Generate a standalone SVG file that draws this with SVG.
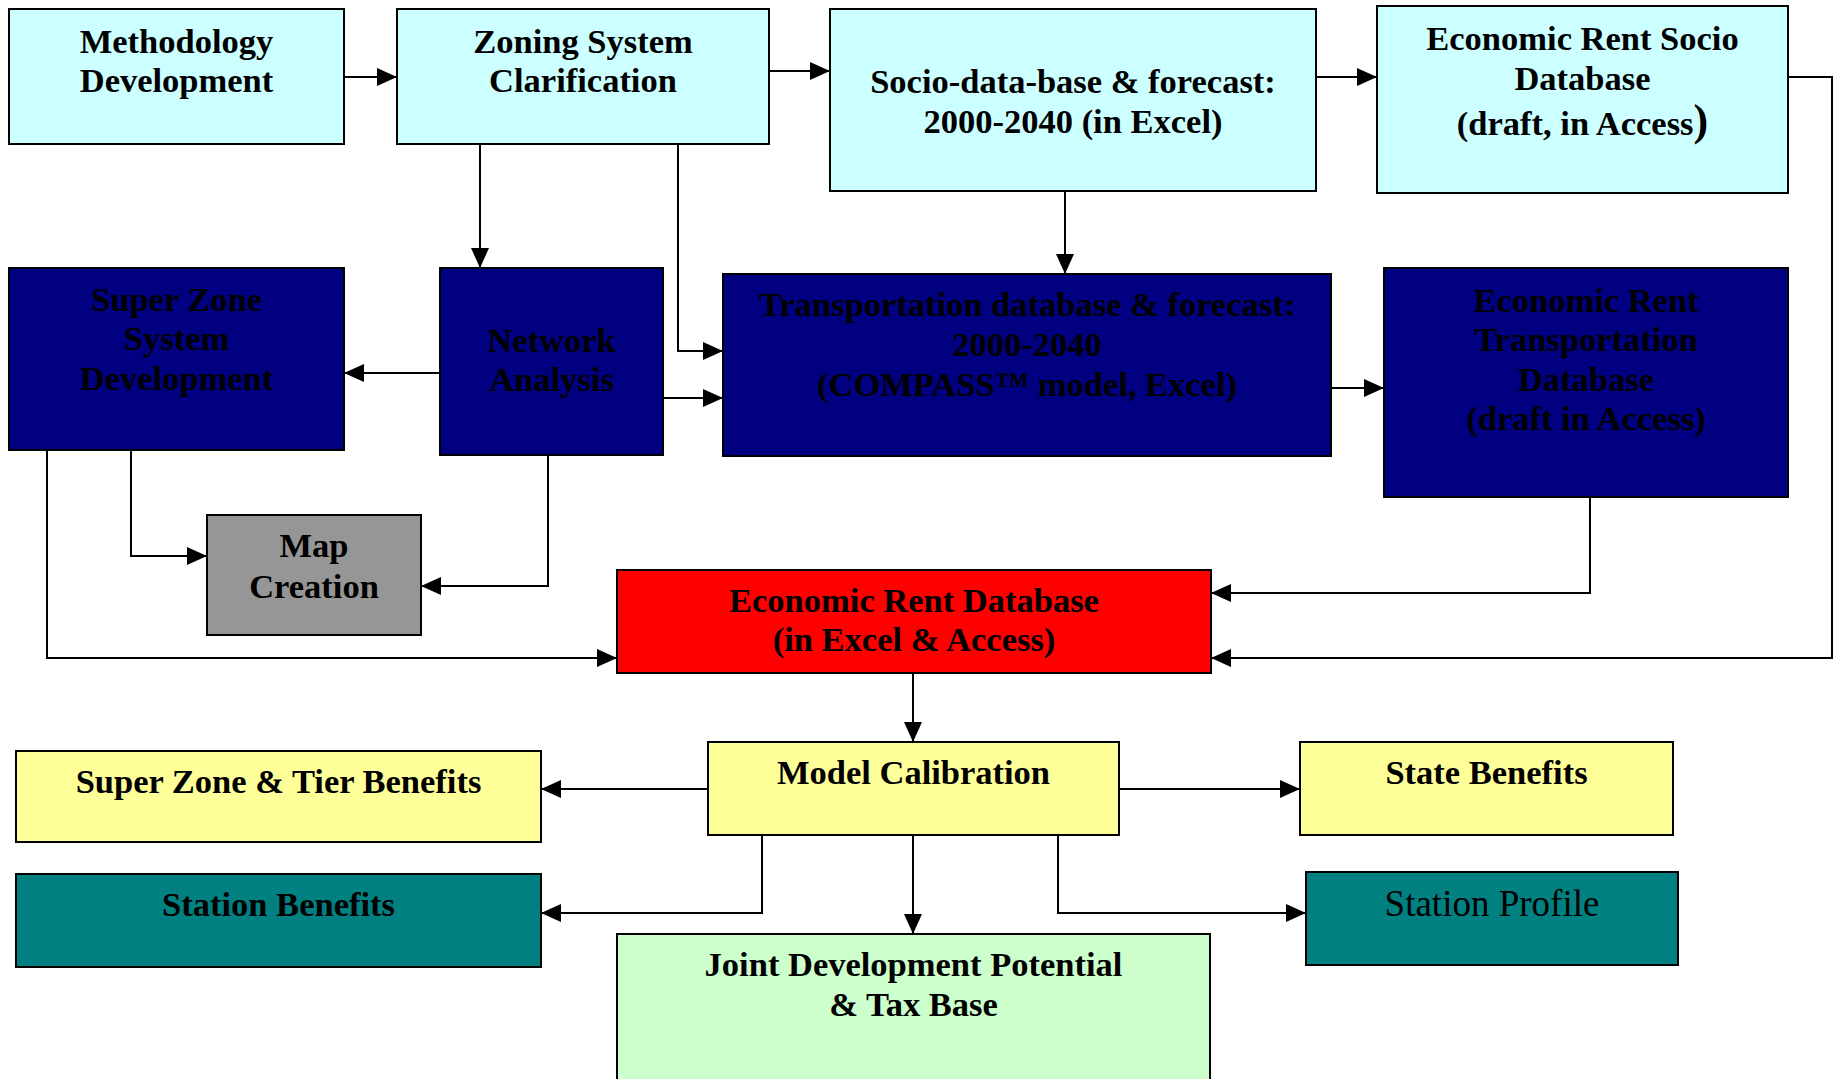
<svg xmlns="http://www.w3.org/2000/svg" width="1840" height="1079" viewBox="0 0 1840 1079">
  <style>
    .box { stroke: #000; stroke-width: 2; }
    .cyan { fill: #CCFFFF; }
    .navy { fill: #000080; }
    .gray { fill: #969696; }
    .red { fill: #FF0000; }
    .yellow { fill: #FFFF99; }
    .teal { fill: #008080; }
    .green { fill: #CCFFCC; }
    text { font-family: "Liberation Serif", "Times New Roman", serif; font-weight: bold; font-size: 34.5px; fill: #000; text-anchor: middle; }
    text.reg { font-weight: normal; font-size: 37px; }
    .wire { fill: none; stroke: #000; stroke-width: 2; marker-end: url(#arrow); }
  </style>
  <defs>
    <marker id="arrow" markerUnits="userSpaceOnUse" markerWidth="20" markerHeight="18" refX="20" refY="9" orient="auto">
      <path d="M0,0 L20,9 L0,18 z" fill="#000"/>
    </marker>
  </defs>
  <rect width="1840" height="1079" fill="#fff"/>

  <g id="methodology">
    <rect class="box cyan" x="9" y="9" width="335" height="135"/>
    <text x="176.5" y="53">Methodology</text>
    <text x="176.5" y="92">Development</text>
  </g>
  <g id="zoning">
    <rect class="box cyan" x="397" y="9" width="372" height="135"/>
    <text x="583" y="53">Zoning System</text>
    <text x="583" y="92">Clarification</text>
  </g>
  <g id="socio-data">
    <rect class="box cyan" x="830" y="9" width="486" height="182"/>
    <text x="1073" y="93">Socio-data-base &amp; forecast:</text>
    <text x="1073" y="133">2000-2040 (in Excel)</text>
  </g>
  <g id="rent-socio">
    <rect class="box cyan" x="1377" y="6" width="411" height="187"/>
    <text x="1582.5" y="50">Economic Rent Socio</text>
    <text x="1582.5" y="90">Database</text>
    <text x="1582.5" y="135">(draft, in Access<tspan font-size="44">)</tspan></text>
  </g>
  <g id="super-zone">
    <rect class="box navy" x="9" y="268" width="335" height="182"/>
    <text x="176.5" y="311">Super Zone</text>
    <text x="176.5" y="350">System</text>
    <text x="176.5" y="390">Development</text>
  </g>
  <g id="network">
    <rect class="box navy" x="440" y="268" width="223" height="187"/>
    <text x="551.5" y="352">Network</text>
    <text x="551.5" y="391">Analysis</text>
  </g>
  <g id="transport">
    <rect class="box navy" x="723" y="274" width="608" height="182"/>
    <text x="1027" y="316">Transportation database &amp; forecast:</text>
    <text x="1027" y="356">2000-2040</text>
    <text x="1027" y="396">(COMPASS™ model, Excel)</text>
  </g>
  <g id="rent-transport">
    <rect class="box navy" x="1384" y="268" width="404" height="229"/>
    <text x="1586" y="312">Economic Rent</text>
    <text x="1586" y="351">Transportation</text>
    <text x="1586" y="391">Database</text>
    <text x="1586" y="430">(draft in Access)</text>
  </g>
  <g id="map">
    <rect class="box gray" x="207" y="515" width="214" height="120"/>
    <text x="314" y="557">Map</text>
    <text x="314" y="598">Creation</text>
  </g>
  <g id="rent-db">
    <rect class="box red" x="617" y="570" width="594" height="103"/>
    <text x="914" y="612">Economic Rent Database</text>
    <text x="914" y="651">(in Excel &amp; Access)</text>
  </g>
  <g id="calibration">
    <rect class="box yellow" x="708" y="742" width="411" height="93"/>
    <text x="913.5" y="784">Model Calibration</text>
  </g>
  <g id="tier-benefits">
    <rect class="box yellow" x="16" y="751" width="525" height="91"/>
    <text x="278.5" y="793">Super Zone &amp; Tier Benefits</text>
  </g>
  <g id="state-benefits">
    <rect class="box yellow" x="1300" y="742" width="373" height="93"/>
    <text x="1486.5" y="784">State Benefits</text>
  </g>
  <g id="station-benefits">
    <rect class="box teal" x="16" y="874" width="525" height="93"/>
    <text x="278.5" y="916">Station Benefits</text>
  </g>
  <g id="station-profile">
    <rect class="box teal" x="1306" y="872" width="372" height="93"/>
    <text class="reg" x="1492" y="916">Station Profile</text>
  </g>
  <g id="joint-dev">
    <rect class="box green" x="617" y="934" width="593" height="160"/>
    <text x="913.5" y="976">Joint Development Potential</text>
    <text x="913.5" y="1016">&amp; Tax Base</text>
  </g>

  <g id="connectors">
    <path class="wire" d="M344,77 H397"/>
    <path class="wire" d="M769,71 H830"/>
    <path class="wire" d="M1316,77 H1377"/>
    <path class="wire" d="M1788,77 H1832 V658 H1211"/>
    <path class="wire" d="M480,144 V268"/>
    <path class="wire" d="M678,144 V351 H723"/>
    <path class="wire" d="M1065,191 V274"/>
    <path class="wire" d="M440,373 H344"/>
    <path class="wire" d="M663,398 H723"/>
    <path class="wire" d="M1331,388 H1384"/>
    <path class="wire" d="M1590,497 V593 H1211"/>
    <path class="wire" d="M131,450 V556 H207"/>
    <path class="wire" d="M548,455 V586 H421"/>
    <path class="wire" d="M47,450 V658 H617"/>
    <path class="wire" d="M913,673 V742"/>
    <path class="wire" d="M708,789 H541"/>
    <path class="wire" d="M1119,789 H1300"/>
    <path class="wire" d="M762,835 V913 H541"/>
    <path class="wire" d="M1058,835 V913 H1306"/>
    <path class="wire" d="M913,835 V934"/>
  </g>
</svg>
